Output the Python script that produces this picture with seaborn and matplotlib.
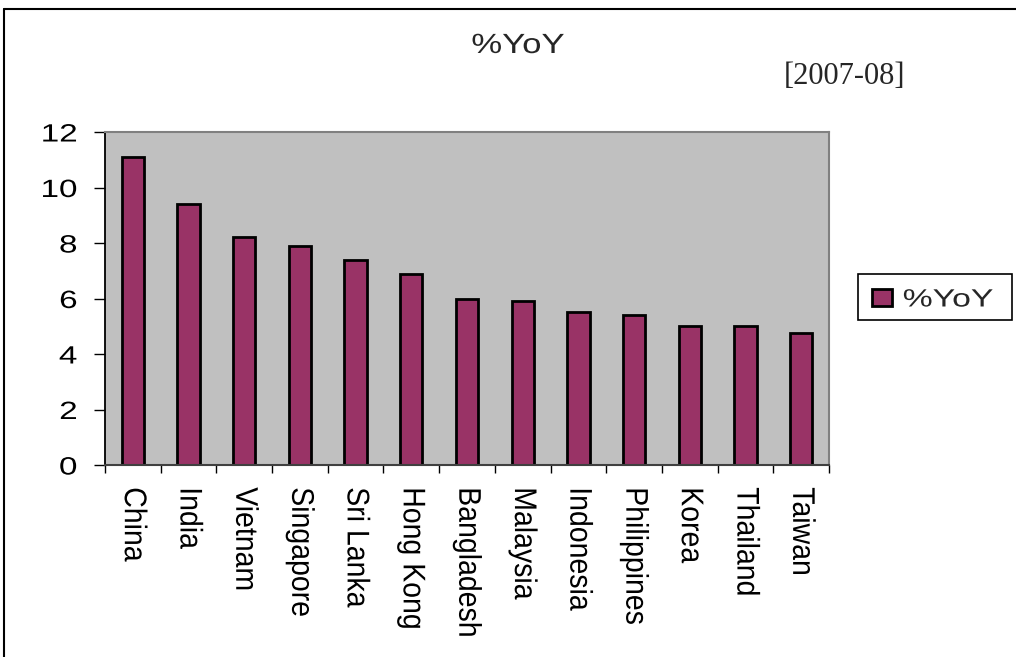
import matplotlib
matplotlib.use("Agg")
import matplotlib.pyplot as plt
import seaborn as sns
import pandas as pd
from matplotlib import patheffects
from matplotlib.transforms import Affine2D
from matplotlib.lines import Line2D
from matplotlib.patches import Rectangle

# Real GDP growth, % year on year, 2007-08
countries = ["China", "India", "Vietnam", "Singapore", "Sri Lanka", "Hong Kong",
             "Bangladesh", "Malaysia", "Indonesia", "Philippines", "Korea",
             "Thailand", "Taiwan"]
yoy = [11.1, 9.4, 8.2, 7.9, 7.4, 6.9, 6.0, 5.9, 5.5, 5.4, 5.0, 5.0, 4.75]
series_name = "%YoY"
period_label = "[2007-08]"
y_ticks = [0, 2, 4, 6, 8, 10, 12]

BAR = "#993366"
PLOT_BG = "#C0C0C0"


class StretchX(patheffects.AbstractPathEffect):
    """Widen glyphs horizontally around an anchor (left / center / right)."""

    def __init__(self, sx, anchor="center"):
        super().__init__()
        self.sx = sx
        self.anchor = anchor

    def draw_path(self, renderer, gc, tpath, affine, rgbFace=None):
        ext = tpath.get_extents(affine)
        if self.anchor == "left":
            cx = ext.x0
        elif self.anchor == "right":
            cx = ext.x1
        else:
            cx = 0.5 * (ext.x0 + ext.x1)
        aff = affine + Affine2D().translate(-cx, 0).scale(self.sx, 1).translate(cx, 0)
        renderer.draw_path(gc, tpath, aff, rgbFace)


sns.set_style("ticks")
plt.rcParams["font.family"] = ["Liberation Sans", "DejaVu Sans"]

W, H = 1016, 657
fig = plt.figure(figsize=(W / 100, H / 100), dpi=100)
fig.patch.set_facecolor("white")

ax = fig.add_axes([105 / W, 1 - 465 / H, (829 - 105) / W, (465 - 132) / H])

df = pd.DataFrame({"country": countries, series_name: yoy})
sns.barplot(data=df, x="country", y=series_name, ax=ax, color=BAR, saturation=1,
            width=0.4, edgecolor="black", linewidth=2, errorbar=None,
            label=series_name)

ax.set_facecolor(PLOT_BG)
ax.set_xlim(-0.5, len(countries) - 0.5)
ax.set_ylim(0, 12)
ax.set_yticks(y_ticks)
ax.set_xlabel("")
ax.set_ylabel("")

for side in ("top", "right"):
    ax.spines[side].set_visible(True)
    ax.spines[side].set_color("#808080")
    ax.spines[side].set_linewidth(1.5)
ax.spines["left"].set_color("black")
ax.spines["left"].set_linewidth(1.3)
ax.spines["bottom"].set_color("#404040")
ax.spines["bottom"].set_linewidth(1.5)

ax.tick_params(axis="y", direction="out", length=8, width=1, color="black",
               pad=12, labelsize=18, labelcolor="black")
ax.tick_params(axis="x", which="major", length=0, pad=16, labelsize=20.5,
               labelrotation=270, labelcolor="black")
ax.set_xticks([i - 0.5 for i in range(len(countries) + 1)], minor=True)
ax.tick_params(axis="x", which="minor", direction="out", length=6, width=1,
               color="black")

for t in ax.get_yticklabels():
    t.set_path_effects([StretchX(1.33, "right")])
for t in ax.get_xticklabels():
    t.set_path_effects([StretchX(1.1)])

# Chart title and period
fig.text(518 / W, 1 - 53 / H, series_name, ha="center", va="baseline",
         fontsize=20, path_effects=[StretchX(1.25)])
fig.text(845 / W, 1 - 77 / H, period_label, ha="center", va="center",
         fontsize=22, family=["Liberation Serif", "DejaVu Serif"])

# Legend with a plain black box
handles, labels = ax.get_legend_handles_labels()
leg = fig.legend(handles[:1], labels[:1], loc="center left",
                 bbox_to_anchor=(872 / W, 1 - 299.5 / H), borderaxespad=0,
                 borderpad=0, frameon=False, fontsize=18, handlelength=0.8,
                 handleheight=0.68, handletextpad=0.44)
for t in leg.get_texts():
    t.set_path_effects([StretchX(1.35, "left")])
fig.add_artist(Rectangle((858 / W, 1 - 320 / H), 154 / W, 46 / H,
                         transform=fig.transFigure, fill=False,
                         edgecolor="black", linewidth=1.2))
if ax.get_legend() is not None:
    ax.get_legend().remove()

# Outer chart frame (left and top edges)
fig.add_artist(Line2D([4 / W, 4 / W], [0, 1 - 9 / H], transform=fig.transFigure,
                      color="black", linewidth=1.5))
fig.add_artist(Line2D([4 / W, 1], [1 - 9 / H, 1 - 9 / H], transform=fig.transFigure,
                      color="black", linewidth=1.5))

fig.savefig("out.png", dpi=100)
